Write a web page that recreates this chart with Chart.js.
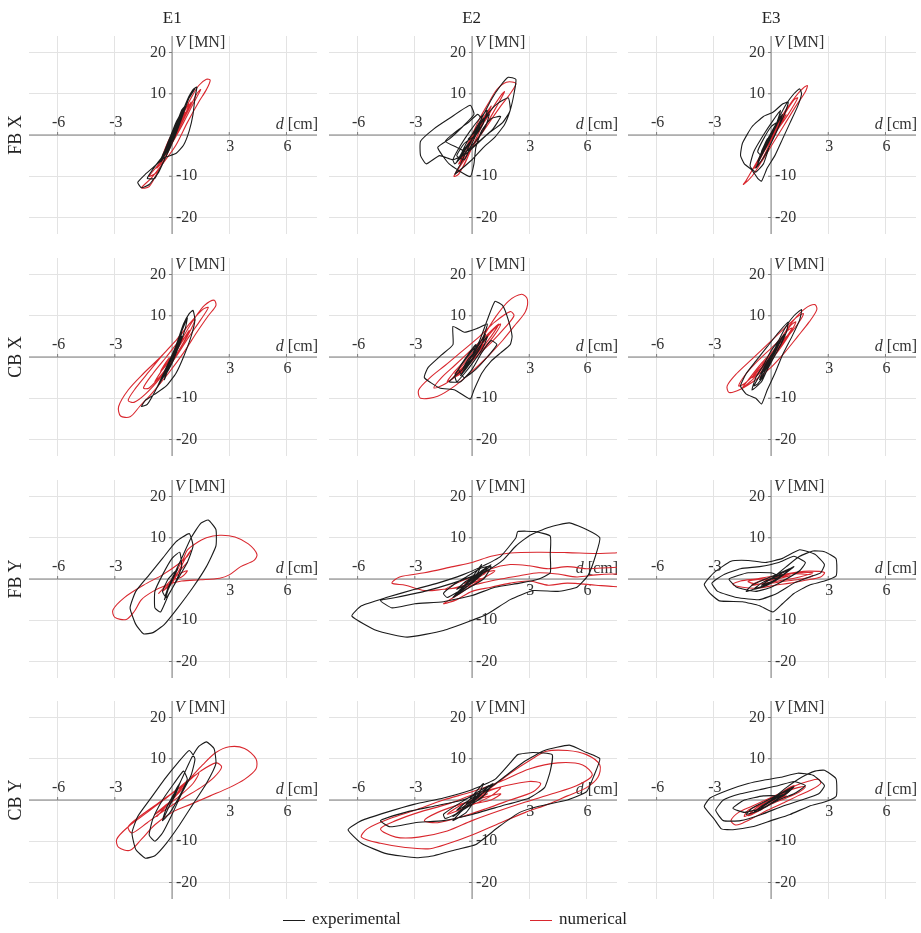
<!DOCTYPE html>
<html>
<head>
<meta charset="utf-8">
<script src="https://cdn.jsdelivr.net/npm/chart.js@4"></script>
<style>
    body { margin: 0; background: #fff; font-family: "Liberation Serif", serif; color: #222; }
    #wrap { position: relative; width: 921px; height: 933px; overflow: hidden; }
    #wrap canvas { position: absolute; }
    .col { position: absolute; top: 8px; width: 60px; margin-left: -30px; text-align: center; font-size: 17px; }
    .row { position: absolute; left: 15px; font-size: 18px; white-space: nowrap;
           transform: translate(-50%, -50%) rotate(-90deg); }
    .leg { position: absolute; top: 909px; font-size: 17px; white-space: nowrap; }
    .leg i { display: inline-block; width: 22px; border-top: 1px solid; vertical-align: middle; margin-right: 7px; }
</style>
</head>
<body>
<div id="wrap"></div>
<script>
// -----------------------------
// LABELS / TICKS
// -----------------------------
const colNames = ["E1", "E2", "E3"];
const rowNames = ["FB X", "CB X", "FB Y", "CB Y"];
const xGrid = [-6, -3, 0, 3, 6];
const yGrid = [-20, -10, 0, 10, 20];
const xTickLabels = [-6, -3, 3, 6];
const yTickLabels = [-20, -10, 10, 20];

// -----------------------------
// DATA  [d (cm), V (MN)]
// -----------------------------
const fbxE1Exp = [[0,0],[0.4,4],[0.8,8.5],[1.1,11],[1.3,11.6],[1.2,9],[1.1,5],[0.9,1],[0.6,-2.5],[0.2,-4.5],[-0.4,-5.5],[-0.9,-7.5],[-1.4,-9.5],[-1.8,-11.5],[-1.6,-12.8],[-1.2,-12],[-0.7,-9],[-0.3,-5],[0.1,-1],[0.5,4],[0.9,9],[1.2,11.2],[0.9,9.5],[0.5,5],[0.1,0],[-0.3,-4],[-0.8,-7],[-1.3,-10.5],[-0.9,-10.5],[-0.4,-6],[0,-2],[0.4,3],[0.7,7],[0.5,6],[0.1,1],[-0.3,-3],[-0.6,-6],[-0.3,-4],[0.1,0],[0.4,4],[0.2,3],[-0.1,-1],[-0.4,-4],[-0.1,-2],[0.2,1.5],[0,0],
    [0.3,3.5],[0.6,6.5],[0.7,7],[0.5,4],[0.2,0.5],[-0.2,-3],[-0.5,-6],[-0.6,-6.5],[-0.4,-4],[-0.1,-0.5],[0.2,3],[0.5,5.5],[0.4,3.5],[0.1,0],[-0.2,-3.5],[-0.4,-5],[-0.2,-2],[0.1,1.5],[0.35,4],[0.2,2],[-0.1,-1.5],[-0.3,-3.5],[-0.1,-1],[0.15,1],[0,0]];
const fbxE1Num = [[0,0],[0.5,4.5],[1.0,9],[1.4,12],[1.8,13.5],[2.0,13.3],[1.8,11],[1.4,8],[0.8,3],[0.2,-2.5],[-0.5,-7],[-1.1,-10.5],[-1.6,-12.8],[-1.2,-12.5],[-0.7,-8.5],[-0.2,-4],[0.3,1],[0.8,5.5],[1.3,10],[1.5,11],[1.1,7.5],[0.6,3],[0,-2],[-0.6,-6.5],[-1.2,-10],[-0.8,-9],[-0.3,-5],[0.2,0],[0.7,5],[1.0,8],[0.6,4],[0.1,-0.5],[-0.4,-4.5],[-0.1,-2],[0.3,2],[0,0],
    [0.4,3.5],[0.8,7],[0.9,7.5],[0.5,3],[0,-1.5],[-0.5,-5.5],[-0.8,-8],[-0.6,-7],[-0.2,-3],[0.3,1.5],[0.7,5.5],[0.5,4],[0.1,0],[-0.4,-4],[-0.5,-5],[-0.2,-1.5],[0.2,2],[0,0]];

const fbxE2Exp = [[0,0],[0.5,4],[1.0,8.5],[1.5,12],[1.9,14],[2.3,13.5],[2.2,10],[2.0,6],[1.7,2.5],[1.2,-0.5],[0.6,-3],[0,-6],[-0.5,-8],[-0.9,-9.5],[-0.6,-7],[-0.2,-3],[0.3,1.5],[0.8,5],[1.3,7.5],[1.9,9],[2.0,6],[1.6,3],[0.9,0.5],[0.3,-2],[-0.3,-4.5],[-1.0,-6],[-1.7,-5],[-2.4,-7],[-2.7,-5],[-2.7,-1.5],[-2.0,1.5],[-1.2,4],[-0.1,7.2],[0.1,5],[-0.5,2],[-1.2,-1],[-1.8,-3],[-1.2,-7],[-0.1,-10.1],[0.1,-7],[0.2,-3],[0.5,1],[1.0,4],[1.5,4.5],[1.1,1.5],[0.5,-1],[-0.3,-4],[-0.8,-3],[-1.4,-1.5],[-0.8,1],[-0.2,3],[0.3,5],[0.6,3],[0.2,0],[-0.4,-2],[-0.8,-5],[-0.4,-6],[0,-2],[0.4,2],[0,0],
    [0.5,3],[0.9,5],[0.7,2],[0.2,-1.5],[-0.4,-4.5],[-0.9,-7],[-1.0,-6],[-0.6,-2.5],[-0.1,1],[0.4,4],[0.8,6],[0.6,3],[0.1,-0.5],[-0.5,-4],[-0.8,-6.5],[-0.4,-4],[0,-1],[0.5,2],[0.3,1],[-0.2,-2.5],[-0.6,-5],[-0.3,-2],[0.2,1.5],[0.6,4],[0.2,1],[-0.2,-1],[0,0]];
const fbxE2Num = [[0,0],[0.4,4],[0.9,8],[1.3,11],[1.8,12.8],[2.3,12.5],[2.0,10],[1.5,7],[0.9,3],[0.3,-1],[-0.3,-5],[-0.7,-8],[-0.95,-10],[-0.7,-9.5],[-0.3,-6],[0.1,-2],[0.5,2],[1.0,6],[1.5,9.5],[1.7,10.5],[1.3,7],[0.8,3],[0.2,-1.5],[-0.4,-6],[-0.8,-9],[-0.5,-8],[-0.1,-4],[0.3,0],[0.7,4],[1.0,6],[0.7,3.5],[0.2,0.5],[-0.3,-3],[0,0],
    [0.5,3.5],[1.0,7],[0.8,5],[0.3,1],[-0.3,-4],[-0.7,-7],[-0.5,-6],[-0.1,-2],[0.4,2],[0.9,6],[0.6,4],[0.1,0],[-0.4,-4],[-0.6,-6],[-0.2,-2],[0.2,1],[0,0]];

const fbxE3Exp = [[0,0],[0.4,4],[0.8,7.5],[1.2,10],[1.5,11.2],[1.6,10],[1.4,7],[1.0,3],[0.6,-1],[0.2,-5],[-0.2,-8],[-0.5,-11.2],[-0.7,-10.5],[-1.0,-8.5],[-1.4,-7],[-1.6,-5],[-1.5,-2],[-1.0,2],[-0.4,4.5],[0.1,5.5],[0.6,7.5],[0.9,8],[0.7,5],[0.3,1],[-0.1,-3],[-0.4,-7],[-0.8,-9],[-1.1,-7.5],[-0.9,-4],[-0.4,0],[0.1,3.5],[0.5,6],[0.3,3],[-0.1,-1],[-0.5,-5],[-0.7,-4],[-0.4,-1],[0,2],[0.3,3],[0,0],
    [0.3,2.5],[0.6,5],[0.4,2],[0,-2],[-0.4,-5.5],[-0.8,-8],[-0.6,-6],[-0.3,-2.5],[0.1,1],[0.5,4.5],[0.3,2.5],[-0.1,-1.5],[-0.5,-5],[-0.7,-6.5],[-0.4,-3],[0,0.5],[0.3,3],[0.1,0.5],[-0.3,-3],[-0.5,-4],[-0.2,-1],[0,0]];
const fbxE3Num = [[0,0],[0.5,4],[1.0,7.5],[1.5,10.5],[1.9,12],[1.8,10.5],[1.3,7],[0.7,2.5],[0.1,-2],[-0.5,-6.5],[-1.0,-10],[-1.45,-12],[-1.3,-11],[-0.8,-7],[-0.3,-3],[0.2,1],[0.7,5],[1.2,8.5],[1.4,9],[0.9,5],[0.3,1],[-0.3,-3.5],[-0.9,-8],[-0.6,-7],[-0.1,-2.5],[0.4,2],[0.8,5],[0.4,2],[-0.2,-2],[0,0],
    [0.5,4],[0.9,7],[0.6,4],[0.1,0],[-0.5,-5],[-0.9,-8],[-0.6,-6],[-0.1,-1.5],[0.4,3],[0.7,5.5],[0.3,2],[-0.2,-2.5],[-0.6,-6],[-0.3,-3],[0,0]];

const cbxE1Exp = [[0,0],[0.3,4],[0.6,8],[0.9,10.5],[1.1,11.3],[1.2,9],[1.0,5],[0.6,0],[0.2,-4],[-0.3,-7],[-0.9,-9],[-1.4,-10.5],[-1.6,-12],[-1.3,-11.5],[-0.8,-7.5],[-0.4,-3.5],[0,0.5],[0.4,5],[0.8,9.5],[0.7,7],[0.4,3],[0,-1],[-0.4,-4.5],[-0.8,-7.5],[-0.6,-6],[-0.2,-2],[0.2,2],[0.5,5],[0.3,3],[-0.1,-1],[-0.3,-3],[0,0],
    [0.2,2.5],[0.5,6],[0.4,4],[0.1,0],[-0.2,-3],[-0.4,-5.5],[-0.3,-3.5],[0,0],[0.3,3.5],[0.5,5],[0.3,2],[0,-1.5],[-0.3,-4],[-0.2,-2],[0.1,1],[0.3,3],[0.1,0.5],[-0.2,-2],[0,0]];
const cbxE1Num = [[0,0],[0.6,5],[1.2,9.5],[1.7,12.5],[2.2,13.8],[2.3,12.5],[1.9,10],[1.3,6],[0.6,1],[-0.2,-4],[-1.0,-8.5],[-1.7,-12],[-2.2,-14.5],[-2.7,-14.3],[-2.8,-12],[-2.3,-8],[-1.5,-4],[-0.6,0],[0.2,4],[0.9,8],[1.6,11.5],[1.9,12],[1.5,9],[0.9,5],[0.2,0],[-0.6,-5],[-1.4,-9],[-2.0,-11],[-2.3,-10.5],[-1.9,-7.5],[-1.2,-3.5],[-0.4,1],[0.4,5],[1.0,8.5],[1.2,9],[0.8,5],[0.2,0.5],[-0.5,-4],[-1.2,-7.5],[-1.5,-7.5],[-1.0,-4],[-0.3,0],[0.4,4],[0.1,1],[0,0],
    [0.5,3.5],[0.9,6.5],[0.6,3.5],[0,-1],[-0.6,-4.5],[-0.9,-6],[-0.5,-3],[0.1,1],[0.6,4.5],[0.3,2],[-0.3,-2],[-0.6,-3.5],[-0.2,-0.5],[0,0]];

const cbxE2Exp = [[0,0],[0.4,4],[0.8,9],[1.2,13.5],[1.6,12.5],[1.9,9],[2.1,5],[2.0,3],[1.5,1],[1.0,-1],[0.5,-4],[0.1,-8],[-0.1,-10.2],[-0.9,-8],[-1.7,-7.5],[-2.5,-5],[-2.3,-2.5],[-1.6,0.5],[-1.0,3],[-1.0,7.4],[-0.4,6],[0.3,7],[0.8,8],[0.6,5],[0.1,1],[-0.5,-3],[-1.2,-6],[-0.6,-6],[0,-3],[0.5,1],[1.0,4],[1.3,3],[0.8,0],[0.2,-3],[-0.4,-5],[-0.7,-3],[-0.3,0],[0.2,3],[0,0],
    [0.4,2.5],[0.8,5],[0.6,2.5],[0.1,-1],[-0.4,-4],[-0.8,-6],[-0.9,-4.5],[-0.5,-1.5],[0,1.5],[0.5,4],[0.7,5.5],[0.4,2],[-0.1,-1.5],[-0.6,-4.5],[-0.4,-3],[0,-0.5],[0.4,2],[0.2,0.5],[-0.3,-2],[-0.5,-3],[-0.2,-0.5],[0.1,1],[0,0]];
const cbxE2Num = [[0,0],[0.6,5],[1.2,9.5],[1.9,13.5],[2.6,15.2],[2.9,14],[2.8,11],[2.3,8],[1.6,4],[0.8,0],[0,-3.5],[-0.9,-7],[-1.8,-9.5],[-2.7,-10],[-2.8,-8],[-2.2,-5],[-1.4,-2],[-0.5,1.5],[0.4,5],[1.2,8.5],[2.0,11],[2.2,10],[1.7,7],[1.0,3.5],[0.2,0],[-0.6,-3.5],[-1.4,-6.5],[-2.0,-7.5],[-1.6,-5],[-0.9,-2],[-0.1,1.5],[0.7,5],[1.4,8],[1.0,5],[0.4,1.5],[-0.3,-2],[-1.0,-5],[-0.6,-4],[0,-0.5],[0.6,3],[0.3,1.5],[0,0],
    [0.5,3],[1.1,6.5],[1.5,8],[1.2,5.5],[0.6,2],[-0.1,-1.5],[-0.8,-4.5],[-1.3,-6],[-1.0,-4],[-0.4,-1],[0.3,2.5],[0.9,5.5],[0.6,3.5],[0,0],[-0.6,-3],[-0.9,-4],[-0.4,-1.5],[0.2,1.5],[0.5,3],[0.2,1],[0,0]];

const cbxE3Exp = [[0,0],[0.4,4],[0.8,7.5],[1.2,10],[1.6,11.5],[1.5,9],[1.1,5],[0.6,0.5],[0.2,-4],[-0.2,-8],[-0.5,-11.4],[-0.8,-10],[-1.3,-9],[-1.6,-7],[-1.3,-4],[-0.8,-1],[-0.2,2.5],[0.4,6],[0.9,8.5],[0.8,6],[0.4,2],[-0.1,-2],[-0.5,-6],[-1.0,-8],[-0.8,-5],[-0.4,-2],[0,1.5],[0.4,4],[0.2,2],[-0.2,-1.5],[-0.5,-4],[-0.2,-2],[0,0],
    [0.3,2.5],[0.7,5.5],[0.5,3],[0.1,-0.5],[-0.3,-4],[-0.7,-6.5],[-0.9,-7],[-0.6,-4.5],[-0.2,-1],[0.3,2.5],[0.6,5],[0.3,2],[-0.1,-1.5],[-0.5,-5],[-0.6,-5.5],[-0.3,-2.5],[0.1,0.5],[0.4,3],[0.2,1],[-0.2,-2],[-0.4,-3.5],[-0.1,-1],[0,0]];
const cbxE3Num = [[0,0],[0.6,5],[1.2,9],[1.8,11.8],[2.3,12.7],[2.4,11.5],[2.0,8.5],[1.4,5],[0.7,1],[0,-2.5],[-0.8,-5.5],[-1.6,-7.8],[-2.2,-8.6],[-2.3,-7],[-1.8,-4],[-1.0,-0.5],[-0.2,3],[0.6,6.5],[1.3,9.5],[1.7,10.5],[1.4,8],[0.8,4.5],[0.1,0.5],[-0.7,-3.5],[-1.4,-6.5],[-1.7,-7],[-1.3,-4],[-0.6,-0.5],[0.2,3],[0.9,6.5],[1.1,7],[0.6,3.5],[0,0],[-0.6,-3],[-1.0,-5],[-0.6,-2.5],[0,0],
    [0.5,4],[1.0,7.5],[1.3,8.5],[0.9,5],[0.3,1],[-0.4,-3],[-1.1,-6],[-1.5,-7.5],[-1.1,-5],[-0.5,-1.5],[0.2,2],[0.8,5],[0.5,3],[-0.1,-0.5],[-0.7,-4],[-1.0,-5],[-0.5,-2],[0.1,1],[0.4,2.5],[0.1,0.5],[0,0]];

const fbyE1Exp = [[0,0],[0.5,5],[1.0,10],[1.5,13.5],[1.9,14.3],[2.3,12],[2.3,8],[1.8,3],[1.1,-2],[0.3,-7],[-0.4,-11],[-1.0,-13],[-1.5,-13.3],[-1.9,-11],[-2.2,-7],[-1.9,-3],[-1.2,1],[-0.5,5],[0.2,9],[0.9,11],[1.1,8],[0.8,4],[0.3,0],[-0.2,-4],[-0.6,-8],[-0.9,-7],[-0.9,-3],[-0.5,1],[0,5],[0.4,6.5],[0.5,3],[0.1,-1.5],[-0.3,-4.5],[-0.5,-3],[-0.2,0],[0.2,2],[0,0],
    [0.2,2],[0.4,4],[0.3,3],[0,0],[-0.2,-2.5],[-0.4,-5],[-0.3,-4],[-0.1,-1],[0.2,2],[0.35,3.5],[0.1,1],[-0.2,-2],[-0.35,-4],[-0.15,-1.5],[0.1,1],[0.3,2.5],[0.05,0],[-0.25,-3],[-0.1,-1],[0,0]];
const fbyE1Num = [[0,0],[0.3,2.5],[0.6,5],[0.8,7],[1.2,8.5],[1.8,10],[2.5,10.6],[3.3,10.2],[4.0,8.5],[4.45,6],[4.3,4.5],[3.6,3],[3.0,1.0],[2.5,0.2],[1.5,-0.2],[0.5,-0.5],[-0.3,-1.5],[-1.0,-3],[-1.6,-5],[-2.0,-8],[-2.4,-9.8],[-3.0,-9.3],[-3.1,-7.5],[-2.5,-4.5],[-1.5,-1.5],[-0.5,1],[0.3,3.5],[0.8,5.5],[1.0,7],[0.7,5],[0.3,1.5],[0,-1],[-0.5,-3],[-0.2,-1.5],[0.3,1],[0.8,2],[0.5,0.5],[0,0],
    [0.4,2],[0.8,4],[0.5,2.5],[0,0],[-0.4,-2],[-0.7,-3.5],[-0.3,-1.5],[0.2,1],[0.6,3],[0.3,1.5],[-0.1,-0.5],[-0.4,-2],[0,0]];

const fbyE2Exp = [[0,0],[0.8,2],[1.6,4.5],[2.3,8],[3.0,10.5],[4.0,12.5],[5.1,13.6],[6.0,12],[6.7,10],[6.5,6],[6.1,1],[5.5,-2],[4.5,-3],[3.2,-2.8],[2.0,-5],[0.8,-8.5],[-0.1,-10.2],[-1.5,-12.5],[-3.4,-14.1],[-5.0,-12.5],[-6.3,-9],[-5.8,-6.5],[-4.5,-4.5],[-3.0,-2.5],[-1.8,-1],[-0.5,1],[0.5,3],[1.5,5.5],[2.3,10],[2.4,11.5],[3.3,11.5],[4.1,10.4],[4.1,6],[4.1,1.5],[3.5,0],[2.5,-1],[1.2,-2],[0,-4],[-1.5,-5.5],[-3.0,-6],[-4.2,-7],[-4.8,-5.2],[-4.0,-4.5],[-2.5,-3],[-1.0,-1],[0.2,1],[1.0,3],[0.6,0],[-0.3,-2.5],[-1.0,-4.5],[-0.5,-2],[0.3,1.5],[0.5,3.5],[0.1,1],[-0.4,-1.5],[0,0],
    [0.5,2],[1.0,3.5],[0.6,1.5],[0,-1],[-0.7,-3],[-1.3,-4.5],[-1.5,-3.5],[-1.0,-1.5],[-0.3,0.5],[0.4,2.5],[0.8,3],[0.3,0.5],[-0.3,-2],[-0.9,-4],[-0.6,-2.5],[0,-0.5],[0.5,1.5],[0.2,0.5],[-0.4,-1.5],[-0.8,-2.5],[-0.3,-0.5],[0.2,1],[0,0]];
const fbyE2Num = [[0,0],[1.0,2.5],[2.0,3.5],[3.0,3.2],[4.0,2.5],[5.0,3],[6.0,2.5],[7.4,2.8],[9.0,2.8],[9.0,1.2],[7.4,1.2],[6.5,1],[5.5,0.5],[4.5,1.2],[3.5,1.5],[2.5,0.8],[1.5,0],[0.5,-1],[-0.5,-2],[-1.5,-2.5],[-2.5,-2.8],[-3.5,-1.5],[-4.2,-1],[-3.8,0.5],[-2.5,1.5],[-1.0,3],[0,4],[1.0,5.5],[2.0,6.3],[3.5,6.5],[5.0,6.4],[6.5,6.2],[7.4,6.3],[9.0,6.3],[9.0,-1.8],[7.4,-1.8],[6.5,-1.5],[5.0,-1],[4.0,-1.5],[3.0,-0.5],[2.0,-1],[1.0,-2],[0,-3],[-0.8,-5],[-1.5,-6],[-0.8,-4],[0,-1.5],[0.5,0],[0,0],
    [0.6,1.5],[1.2,2],[0.7,0.5],[0,-1],[-0.8,-2],[-1.4,-2.5],[-0.8,-1],[0,0.5],[0.7,1.5],[0.3,0.3],[-0.4,-1],[0,0]];

const fbyE3Exp = [[0,0],[0.8,3],[1.5,5.5],[2.2,6.8],[2.8,6.6],[3.4,5],[3.45,2.5],[3.4,0.7],[2.8,-0.5],[2.0,-1.5],[1.2,-3.5],[0.6,-6],[0.1,-8],[-0.6,-6.5],[-1.5,-5.5],[-2.7,-5.3],[-3.2,-3.5],[-3.5,-1.3],[-3.0,1.5],[-2.1,4.3],[-1.2,4.5],[-0.3,4],[0.6,5],[1.5,7.1],[2.3,6],[2.8,3.5],[2.6,1.5],[2.0,0.5],[1.2,-1],[0.3,-3.5],[-0.6,-5],[-1.8,-4.5],[-2.8,-3],[-3.1,-1],[-2.5,1],[-1.6,2.5],[-0.6,3],[0.4,4],[1.2,5.5],[1.8,4],[1.5,2],[0.8,0],[0,-2],[-0.8,-3],[-1.8,-2],[-2.2,0],[-1.2,1.5],[0,1.5],[0.5,0.5],[0,0],
    [0.6,1.5],[1.2,3],[0.8,1.5],[0.2,-0.5],[-0.6,-2],[-1.3,-3],[-1.0,-1.5],[-0.3,0],[0.5,1.5],[1.0,2.5],[0.5,0.5],[-0.2,-1.5],[-0.9,-2.5],[-0.5,-1],[0.2,0.5],[0.6,1],[0.1,-0.5],[-0.5,-1.5],[0,0]];
const fbyE3Num = [[0,0],[0.6,1],[1.3,1.6],[2.0,1.9],[2.8,1.6],[2.6,0.5],[1.8,-0.3],[1.0,-1],[0.2,-1.5],[-0.7,-2.2],[-1.5,-2],[-2.0,-1.3],[-1.6,-0.5],[-0.8,0],[0,0.6],[0.8,1.2],[1.6,1.2],[2.2,0.8],[1.6,0],[0.8,-0.5],[0,-1],[-0.8,-1.2],[-1.2,-0.6],[-0.5,0],[0,0],
    [0.8,1],[1.5,1.5],[2.2,1.5],[1.5,0.5],[0.6,-0.3],[-0.3,-1],[-1.0,-1.5],[-0.6,-0.5],[0.2,0.3],[1.0,0.8],[0.5,0.2],[-0.3,-0.5],[0,0]];

const cbyE1Exp = [[0,0],[0.5,5],[1.0,10],[1.4,13],[1.8,14.1],[2.2,12.5],[2.3,8.8],[1.8,4],[1.1,-1],[0.4,-6],[-0.3,-10.5],[-0.9,-13.5],[-1.4,-14.1],[-1.9,-12],[-2.1,-8],[-1.8,-4],[-1.1,0.5],[-0.4,5],[0.3,9],[0.9,12],[1.2,10],[1.0,6],[0.5,1.5],[0,-3.5],[-0.5,-8],[-0.9,-10],[-1.2,-8.5],[-1.0,-4.5],[-0.5,0],[0.1,4],[0.6,7],[0.8,5],[0.4,1],[-0.1,-3],[-0.5,-5],[-0.3,-2],[0.1,1.5],[0,0],
    [0.2,2],[0.45,4.5],[0.3,3],[0,0],[-0.25,-2.5],[-0.5,-5],[-0.4,-4],[-0.1,-1],[0.2,2.5],[0.4,4],[0.15,1],[-0.2,-2],[-0.4,-4],[-0.15,-1.5],[0.1,1],[0.3,3],[0.05,0.5],[-0.25,-2.5],[0,0]];
const cbyE1Num = [[0,0],[0.5,3],[1.0,5.5],[1.6,8.5],[2.3,11.5],[3.0,12.9],[3.8,12.5],[4.4,10],[4.4,7.5],[3.8,5],[3.0,3],[2.0,1],[1.0,-1],[0,-3],[-0.9,-6],[-1.6,-9.5],[-2.2,-12.2],[-2.8,-11.5],[-2.9,-9.5],[-2.3,-6.5],[-1.3,-3],[-0.3,0.5],[0.7,4],[1.5,7],[2.3,9],[2.6,8],[2.2,5.5],[1.5,3],[0.6,0.5],[-0.4,-2.5],[-1.3,-5.5],[-2.1,-8],[-2.3,-6.5],[-1.7,-4],[-0.8,-1],[0.1,2],[0.9,5],[1.4,6.5],[1.1,4],[0.4,1],[-0.3,-1.5],[-0.9,-3.5],[-0.4,-1.5],[0,0],
    [0.4,2.5],[0.8,4.5],[0.5,2.5],[0,0],[-0.5,-2.5],[-0.8,-4],[-0.4,-2],[0.2,1],[0.6,3],[0.3,1.5],[-0.2,-1],[-0.5,-2],[0,0]];

const cbyE2Exp = [[0,0],[0.8,2.5],[1.8,6],[2.8,9.5],[3.8,12],[5.1,13.3],[6.0,11.5],[6.7,10],[6.4,6],[6.0,2],[5.0,0],[3.5,-1.5],[2.5,-3],[1.4,-6.5],[0.2,-10.8],[-0.8,-12],[-2.0,-13.5],[-2.9,-14],[-4.5,-13],[-5.8,-10.5],[-6.5,-7.2],[-5.8,-5],[-4.5,-3],[-3.0,-1],[-1.5,0.5],[0,2.5],[1.2,5],[2.0,9],[2.4,11],[3.2,11.5],[4.2,11],[4.1,7],[3.8,3],[3.0,0.5],[1.5,-1.5],[0,-3.5],[-1.5,-5],[-3.0,-5.5],[-4.3,-6.5],[-4.8,-5],[-3.5,-3],[-2.0,-1.5],[-0.5,0],[0.5,2],[1.0,3.5],[0.5,0.5],[-0.5,-2.5],[-1.0,-5],[-0.3,-3],[0.3,1],[0.6,4],[0.2,2],[-0.3,-1],[0,0],
    [0.5,2],[1.1,4],[0.7,1.5],[0,-1],[-0.7,-3],[-1.4,-4.5],[-1.5,-3.5],[-0.9,-1.5],[-0.2,0.5],[0.5,2.5],[0.9,3.5],[0.3,0.5],[-0.4,-2],[-1.0,-4],[-0.6,-2.5],[0,-0.5],[0.5,1.5],[0.2,0.5],[-0.4,-1.5],[-0.8,-2.5],[-0.3,-0.5],[0.2,1],[0,0]];
const cbyE2Num = [[0,0],[1.0,3],[2.0,6.5],[3.0,9.5],[3.9,11.8],[5.0,12],[6.0,11],[6.7,8.5],[6.6,5.5],[6.0,3],[5.0,1],[4.0,-1],[2.8,-3],[1.5,-5.5],[0,-8.5],[-1.2,-10.5],[-2.2,-11.8],[-3.5,-11.5],[-4.8,-10.5],[-5.8,-9],[-5.5,-7],[-4.3,-4.5],[-3.0,-2.5],[-1.5,0],[0,2],[1.5,4.5],[3.0,7.5],[4.5,9],[5.8,8.5],[6.3,6],[5.5,3.5],[4.2,1.5],[2.8,-0.5],[1.5,-2.5],[0,-5],[-1.3,-7.5],[-2.8,-9],[-4.0,-9],[-4.8,-7],[-4.0,-5],[-2.8,-3],[-1.3,-1],[0.2,1.5],[1.8,3.5],[3.0,4.5],[3.6,4],[3.2,2],[2.0,0],[0.8,-2],[-0.5,-4],[-1.8,-5.5],[-2.5,-5],[-1.8,-3],[-0.6,-1],[0.5,0.5],[1.5,1.5],[1.0,0],[0,-1],[-0.5,-2],[0,0],
    [0.8,2],[1.5,3],[1.0,1],[0.2,-0.8],[-0.7,-2.5],[-1.3,-3.5],[-0.8,-1.8],[0,0],[0.8,1.5],[0.4,0.5],[-0.3,-1],[0,0]];

const cbyE3Exp = [[0,0],[0.8,3],[1.6,5.5],[2.3,7],[2.8,7.2],[3.4,5.2],[3.45,2.5],[3.4,0.8],[2.8,-0.5],[2.0,-1.5],[1.0,-3.5],[0,-5],[-1.0,-6.5],[-2.0,-7.2],[-2.6,-7],[-3.0,-4.5],[-3.5,-1.6],[-3.2,0.5],[-2.2,2.5],[-1.2,4],[-0.4,4.8],[0.5,5.5],[1.4,6.5],[2.2,6],[2.8,3.5],[2.5,1.5],[1.6,0],[0.6,-1.5],[-0.5,-3.5],[-1.6,-5],[-2.5,-5],[-2.9,-2.5],[-2.5,0],[-1.6,1.5],[-0.6,2.5],[0.4,3.5],[1.2,4.5],[1.8,3.5],[1.2,1.5],[0.4,0],[-0.5,-2],[-1.4,-3],[-2.0,-2],[-1.4,0],[-0.4,1],[0.3,1],[0,0],
    [0.6,1.8],[1.2,3.2],[0.8,1.5],[0.1,-0.5],[-0.6,-2.5],[-1.3,-3.5],[-1.0,-2],[-0.3,-0.3],[0.5,1.5],[1.0,2.5],[0.5,0.8],[-0.2,-1.5],[-0.9,-3],[-0.5,-1.5],[0.2,0.5],[0.6,1.3],[0.1,0],[-0.5,-1.8],[0,0]];
const cbyE3Num = [[0,0],[0.6,1.8],[1.3,3.5],[2.0,4.6],[2.5,5],[2.6,4],[2.1,2.5],[1.4,1],[0.6,-0.8],[-0.2,-2.5],[-1.0,-4.5],[-1.6,-5.8],[-1.9,-6],[-2.1,-5],[-1.7,-3],[-1.0,-1.5],[-0.2,0.2],[0.6,1.8],[1.4,3],[1.8,3.2],[1.5,2],[0.8,0.5],[0,-1],[-0.8,-2.8],[-1.4,-4],[-1.2,-2.5],[-0.5,-1],[0.3,0.5],[0.8,1],[0.3,0],[0,0],
    [0.6,2],[1.2,3.5],[0.8,1.5],[0.1,-0.5],[-0.7,-2.8],[-1.2,-3.8],[-0.8,-2],[-0.1,0],[0.6,1.5],[0.9,2.2],[0.4,0.8],[-0.3,-1.2],[-0.8,-2.5],[-0.4,-1],[0.2,0.8],[0,0]];

const panels = [
    [fbxE1Exp, fbxE1Num], [fbxE2Exp, fbxE2Num], [fbxE3Exp, fbxE3Num],
    [cbxE1Exp, cbxE1Num], [cbxE2Exp, cbxE2Num], [cbxE3Exp, cbxE3Num],
    [fbyE1Exp, fbyE1Num], [fbyE2Exp, fbyE2Num], [fbyE3Exp, fbyE3Num],
    [cbyE1Exp, cbyE1Num], [cbyE2Exp, cbyE2Num], [cbyE3Exp, cbyE3Num]
];

// -----------------------------
// LAYOUT
// -----------------------------
const originX = [172.3, 471.7, 771.2];
const originY = [135, 356.8, 578.6, 800.4];
const FONT = '"Liberation Serif", serif';

const axesPlugin = {
    id: "crossAxes",
    beforeDatasetsDraw(chart) {
        const { ctx, chartArea: a, scales: { x, y } } = chart;
        const ox = x.getPixelForValue(0);
        const oy = y.getPixelForValue(0);
        ctx.save();
        ctx.strokeStyle = "#7d7d7d";
        ctx.lineWidth = 1;
        ctx.beginPath();
        ctx.moveTo(a.left, oy); ctx.lineTo(a.right, oy);
        ctx.moveTo(ox, a.top); ctx.lineTo(ox, a.bottom);
        xTickLabels.forEach(v => {
            const px = x.getPixelForValue(v);
            ctx.moveTo(px, oy); ctx.lineTo(px, oy - 3);
        });
        yTickLabels.forEach(v => {
            const py = y.getPixelForValue(v);
            ctx.moveTo(ox, py); ctx.lineTo(ox - 3, py);
        });
        ctx.stroke();

        ctx.fillStyle = "#333";
        ctx.font = "16px " + FONT;
        ctx.textBaseline = "middle";
        ctx.textAlign = "center";
        xTickLabels.forEach(v => {
            ctx.fillText(String(v), x.getPixelForValue(v) + 1, v < 0 ? oy - 12 : oy + 12);
        });
        yTickLabels.forEach(v => {
            const py = y.getPixelForValue(v);
            if (v > 0) { ctx.textAlign = "right"; ctx.fillText(String(v), ox - 6, py); }
            else { ctx.textAlign = "left"; ctx.fillText(String(v), ox + 4, py); }
        });

        // axis titles
        ctx.textAlign = "left";
        ctx.font = "italic 16px " + FONT;
        ctx.fillText("V", ox + 3, a.top + 7);
        const wV = ctx.measureText("V").width;
        ctx.font = "16px " + FONT;
        ctx.fillText(" [MN]", ox + 3 + wV, a.top + 7);

        const wCm = ctx.measureText(" [cm]").width;
        ctx.font = "italic 16px " + FONT;
        const wD = ctx.measureText("d").width;
        const sx = a.right + 1 - wCm - wD;
        ctx.fillText("d", sx, oy - 10);
        ctx.font = "16px " + FONT;
        ctx.fillText(" [cm]", sx + wD, oy - 10);
        ctx.restore();
    }
};

const wrap = document.getElementById("wrap");

panels.forEach((p, i) => {
    const r = Math.floor(i / 3), c = i % 3;
    const cv = document.createElement("canvas");
    cv.width = 300; cv.height = 222;
    cv.style.left = (originX[c] - 150) + "px";
    cv.style.top = (originY[r] - 111) + "px";
    wrap.appendChild(cv);

    // first dataset is drawn on top -> experimental over numerical
    new Chart(cv, {
        type: "scatter",
        data: {
            datasets: [
                {
                    label: "experimental",
                    data: p[0].map(q => ({ x: q[0], y: q[1] })),
                    showLine: true, borderColor: "#1b1b1b", borderWidth: 1.1,
                    pointRadius: 0, tension: 0.15
                },
                {
                    label: "numerical",
                    data: p[1].map(q => ({ x: q[0], y: q[1] })),
                    showLine: true, borderColor: "#d9272e", borderWidth: 1.1,
                    pointRadius: 0, tension: 0.3
                }
            ]
        },
        options: {
            responsive: false,
            animation: false,
            devicePixelRatio: 1,
            layout: { padding: { left: 7, right: 5, top: 12, bottom: 12 } },
            plugins: { legend: { display: false }, tooltip: { enabled: false } },
            scales: {
                x: {
                    type: "linear", min: -7.5, max: 7.6,
                    afterBuildTicks: s => { s.ticks = xGrid.map(v => ({ value: v })); },
                    ticks: { display: false },
                    grid: { color: "#e3e3e3", drawTicks: false },
                    border: { display: false }
                },
                y: {
                    type: "linear", min: -24, max: 24,
                    afterBuildTicks: s => { s.ticks = yGrid.map(v => ({ value: v })); },
                    ticks: { display: false },
                    grid: { color: "#e3e3e3", drawTicks: false },
                    border: { display: false }
                }
            }
        },
        plugins: [axesPlugin]
    });
});

// headers, row titles, legend
colNames.forEach((t, c) => {
    const d = document.createElement("div");
    d.className = "col"; d.textContent = t;
    d.style.left = originX[c] + "px";
    wrap.appendChild(d);
});
rowNames.forEach((t, r) => {
    const d = document.createElement("div");
    d.className = "row"; d.textContent = t;
    d.style.top = originY[r] + "px";
    wrap.appendChild(d);
});
const legendItems = [
    { label: "experimental", color: "#1b1b1b", left: 283 },
    { label: "numerical", color: "#d9272e", left: 530 }
];
legendItems.forEach(it => {
    const d = document.createElement("div");
    d.className = "leg";
    d.style.left = it.left + "px";
    d.innerHTML = `<i style="border-color:${it.color}"></i>${it.label}`;
    wrap.appendChild(d);
});
</script>
</body>
</html>
